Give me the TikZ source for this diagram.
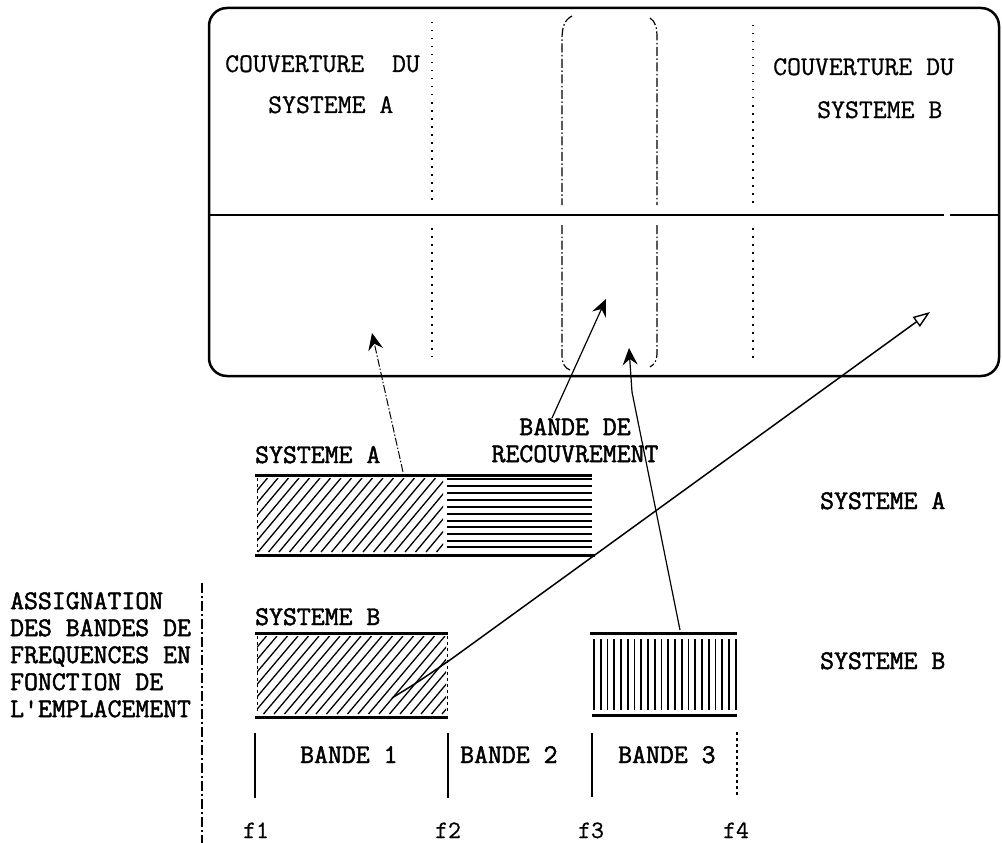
\documentclass[tikz,border=0pt]{standalone}
\usepackage{fontspec}
\usetikzlibrary{arrows.meta}
\newfontfamily\twb[FakeBold=1.8]{Latin Modern Mono}
\newfontfamily\twm[FakeBold=0.8]{Latin Modern Mono}
\begin{document}
\begin{tikzpicture}[x=1pt,y=-1pt,
  lbl/.style={font=\twb\fontsize{27}{27}\selectfont, inner sep=0pt, anchor=base west},
  lbltop/.style={font=\twm\fontsize{27}{27}\selectfont, inner sep=0pt, anchor=base west},
  flbl/.style={font=\twm\fontsize{25}{27}\selectfont, inner sep=0pt, anchor=base west},
  frame/.style={line width=2.5pt},
  bandline/.style={line width=3pt},
  tick/.style={line width=1.2pt},
  dotl/.style={line width=2pt, dash pattern=on 1.5pt off 6.5pt},
  dashdotl/.style={line width=1.2pt, dash pattern=on 9pt off 2.5pt on 1.5pt off 2.5pt},
  leftdash/.style={line width=1.5pt, dash pattern=on 10pt off 3pt on 2pt off 3pt},
  hatch/.style={line width=1.3pt},
  hline/.style={line width=2pt},
  vline/.style={line width=1.6pt},
  arr/.style={line width=1.2pt},
  arrdd/.style={line width=1pt, dash pattern=on 8pt off 2pt on 1.5pt off 2pt},
  tipf/.style={-{Stealth[length=17pt,width=15pt,inset=6pt]}},
  tipo/.style={-{Triangle[open,length=17pt,width=12pt,line width=1.4pt]}}
]
\useasboundingbox (0,0) rectangle (1002,843);

% main coverage box
\draw[frame, rounded corners=18pt] (209,8) rectangle (999,376);
\draw[line width=2pt] (209,215) -- (944,215);
\draw[line width=2pt] (950,215) -- (999,215);

% dotted separators
\draw[dotl] (432,22) -- (432,203);
\draw[dotl] (432,228) -- (432,357);
\draw[dotl] (753,25) -- (753,205);
\draw[dotl] (753,228) -- (753,360);

% overlap region (dash-dot)
\draw[dashdotl] (572,16) .. controls (564,20) and (562,28) .. (562,40) -- (562,205);
\draw[dashdotl] (562,225) -- (562,355) .. controls (562,364) and (565,368) .. (570,370);
\draw[dashdotl] (650,18) .. controls (656,22) and (657,28) .. (657,38) -- (657,205);
\draw[dashdotl] (657,225) -- (657,352) .. controls (657,360) and (655,364) .. (650,367);

% top texts
\node[lbltop] (covA) at (225,72) {COUVERTURE\ \ DU};
\node[lbltop] (sysA) at (268,113) {SYSTEME A};
\node[lbltop] (covB) at (773,75) {COUVERTURE DU};
\node[lbltop] (sysB) at (817,118) {SYSTEME B};

% band A (system A)
\node[lbl] (labA) at (255,463) {SYSTEME A};
\begin{scope}
  \clip (257,478) rectangle (443,552);
  \foreach \i in {0,...,24} \draw[hatch] ({195+\i*10.5},552) -- ++(62,-74);
\end{scope}
\draw[line width=1pt, dashed] (257,478) -- (257,552);
\foreach \yy in {479,486,493,500,507,514,521,527,534,541,547}
  \draw[hline] (447,\yy) -- (592,\yy);
\draw[bandline] (255,475) -- (592,475);
\draw[bandline] (255,555) -- (595,555);

% band B (system B)
\node[lbl] (labB) at (255,625) {SYSTEME B};
\begin{scope}
  \clip (257,636) rectangle (446,714);
  \foreach \i in {0,...,25} \draw[hatch] ({190+\i*10.5},714) -- ++(66,-78);
\end{scope}
\draw[line width=1pt, dashed] (257,636) -- (257,714);
\draw[line width=1pt, dashed] (447,636) -- (447,714);
\draw[bandline] (255,633) -- (448,633);
\draw[bandline] (255,717) -- (448,717);

% band 3 (system B)
\foreach \i in {0,...,21} \draw[vline] ({594+\i*6.75},639) -- ({594+\i*6.75},710);
\draw[bandline] (590,633) -- (737,633);
\draw[bandline] (592,715) -- (737,715);

% right labels
\node[lbl] (rA) at (820,509) {SYSTEME A};
\node[lbl] (rB) at (820,669) {SYSTEME B};

% overlap label
\node[lbl, align=center, anchor=north] (recouv) at (575,418) {BANDE DE\\RECOUVREMENT};

% left label
\draw[leftdash] (202,583) -- (202,843);
\node[lbl, align=left, anchor=north west] (assign) at (10,592)
  {ASSIGNATION\\DES BANDES DE\\FREQUENCES EN\\FONCTION DE\\L'EMPLACEMENT};

% band ticks
\draw[tick] (255,733) -- (255,798);
\draw[tick] (448,733) -- (448,798);
\draw[tick] (592,733) -- (592,797);
\draw[tick, dashed] (737,732) -- (737,797);
\node[lbl] (b1) at (300,763) {BANDE 1};
\node[lbl] (b2) at (460,763) {BANDE 2};
\node[lbl] (b3) at (618,763) {BANDE 3};
\node[flbl] (f1) at (243,838) {f1};
\node[flbl] (f2) at (435,838) {f2};
\node[flbl] (f3) at (578,838) {f3};
\node[flbl] (f4) at (723,838) {f4};

% arrows
\coordinate (a1s) at (403,472);
\coordinate (a1e) at (372,333);
\coordinate (a2s) at (552,418);
\coordinate (a2e) at (606,299);
\coordinate (a3s) at (680,630);
\coordinate (a3e) at (629,348);
\coordinate (a4s) at (392,698);
\coordinate (a4m) at (450,660);
\coordinate (a4e) at (930,312);
\draw[arrdd, tipf] (a1s) -- (a1e);
\draw[arr, tipf] (a2s) -- (a2e);
\draw[arr, tipf] (a3s) -- (632,392) -- (a3e);
\draw[arr, line width=1.5pt, tipo] (a4s) .. controls (418,682) .. (a4m) -- (a4e);
\end{tikzpicture}
\end{document}
